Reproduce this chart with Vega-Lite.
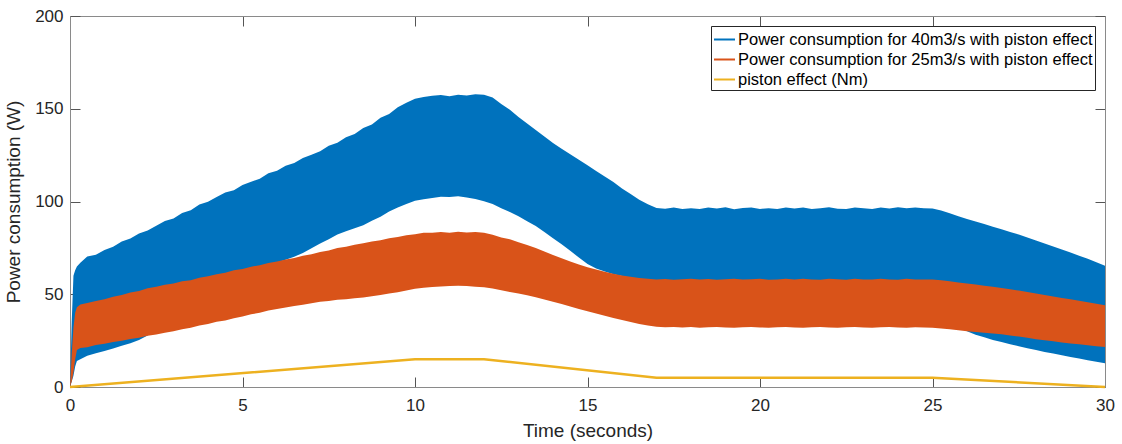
{
  "$schema": "https://vega.github.io/schema/vega-lite/v6.json",
  "width": 1035,
  "height": 371,
  "autosize": "none",
  "padding": {"left": 70, "top": 16, "right": 17, "bottom": 57},
  "background": "white",
  "config": {
    "view": {"stroke": null},
    "font": "Liberation Sans",
    "axis": {
      "labelFont": "Liberation Sans",
      "titleFont": "Liberation Sans",
      "labelFontSize": 17,
      "titleFontSize": 19,
      "titleFontWeight": "normal",
      "labelColor": "#262626",
      "titleColor": "#262626",
      "domainColor": "#8a8a8a",
      "tickColor": "#555555",
      "tickSize": -10,
      "labelFlush": false,
      "grid": false
    }
  },
  "datasets": {
    "bands": [
      {"t": 0, "bt": 0, "bb": 0, "ot": 0, "ob": 0},
      {"t": 0.05, "bt": 35, "bb": 3, "ot": 18, "ob": 3},
      {"t": 0.1, "bt": 60, "bb": 6, "ot": 32, "ob": 8},
      {"t": 0.15, "bt": 63, "bb": 11, "ot": 40, "ob": 15},
      {"t": 0.2, "bt": 65, "bb": 14, "ot": 43, "ob": 20},
      {"t": 0.3, "bt": 67, "bb": 15, "ot": 44.5, "ob": 21},
      {"t": 0.5, "bt": 70.4, "bb": 16.8, "ot": 45.3, "ob": 21.4},
      {"t": 0.75, "bt": 71.3, "bb": 18.2, "ot": 46.4, "ob": 22.6},
      {"t": 1, "bt": 73.8, "bb": 19.4, "ot": 47.3, "ob": 23.3},
      {"t": 1.25, "bt": 75.6, "bb": 20.8, "ot": 48.6, "ob": 24.2},
      {"t": 1.5, "bt": 78.5, "bb": 22.3, "ot": 49.6, "ob": 24.9},
      {"t": 1.75, "bt": 80.0, "bb": 23.6, "ot": 50.9, "ob": 25.9},
      {"t": 2, "bt": 82.7, "bb": 25.4, "ot": 51.8, "ob": 26.6},
      {"t": 2.25, "bt": 84.3, "bb": 27.8, "ot": 53.2, "ob": 27.6},
      {"t": 2.5, "bt": 86.9, "bb": 31, "ot": 54, "ob": 28.3},
      {"t": 2.75, "bt": 89.5, "bb": 33, "ot": 55.1, "ob": 29.3},
      {"t": 3, "bt": 90.9, "bb": 36, "ot": 55.8, "ob": 30.1},
      {"t": 3.25, "bt": 93.8, "bb": 39, "ot": 57, "ob": 31.1},
      {"t": 3.5, "bt": 95.3, "bb": 42, "ot": 57.6, "ob": 31.9},
      {"t": 3.75, "bt": 98.4, "bb": 45, "ot": 58.9, "ob": 33.2},
      {"t": 4, "bt": 99.8, "bb": 48, "ot": 59.7, "ob": 34},
      {"t": 4.25, "bt": 102.4, "bb": 51, "ot": 60.8, "ob": 35.2},
      {"t": 4.5, "bt": 104.8, "bb": 54, "ot": 61.6, "ob": 35.9},
      {"t": 4.75, "bt": 106.1, "bb": 57, "ot": 62.9, "ob": 37.1},
      {"t": 5, "bt": 108.9, "bb": 60, "ot": 63.6, "ob": 38},
      {"t": 5.25, "bt": 110.7, "bb": 62, "ot": 64.8, "ob": 39.2},
      {"t": 5.5, "bt": 112.3, "bb": 64, "ot": 65.7, "ob": 40},
      {"t": 5.75, "bt": 115.2, "bb": 65.5, "ot": 66.9, "ob": 41.2},
      {"t": 6, "bt": 116.6, "bb": 67, "ot": 67.6, "ob": 42},
      {"t": 6.25, "bt": 119.3, "bb": 68.6, "ot": 68.8, "ob": 42.9},
      {"t": 6.5, "bt": 120.8, "bb": 70.2, "ot": 69.6, "ob": 43.6},
      {"t": 6.75, "bt": 123.5, "bb": 72.3, "ot": 70.8, "ob": 44.4},
      {"t": 7, "bt": 125.2, "bb": 74.8, "ot": 71.6, "ob": 45.1},
      {"t": 7.25, "bt": 127.1, "bb": 77.4, "ot": 72.8, "ob": 45.9},
      {"t": 7.5, "bt": 130.1, "bb": 79.7, "ot": 73.6, "ob": 46.4},
      {"t": 7.75, "bt": 131.7, "bb": 82.2, "ot": 74.9, "ob": 47},
      {"t": 8, "bt": 134.6, "bb": 83.9, "ot": 75.6, "ob": 47.3},
      {"t": 8.25, "bt": 136.4, "bb": 85.6, "ot": 76.7, "ob": 47.9},
      {"t": 8.5, "bt": 139.6, "bb": 87.2, "ot": 77.5, "ob": 48.3},
      {"t": 8.75, "bt": 141.5, "bb": 89.6, "ot": 78.4, "ob": 48.9},
      {"t": 9, "bt": 145.1, "bb": 91.8, "ot": 79.1, "ob": 49.6},
      {"t": 9.25, "bt": 147.2, "bb": 94.6, "ot": 80.2, "ob": 50.4},
      {"t": 9.5, "bt": 150.8, "bb": 96.8, "ot": 80.8, "ob": 51.1},
      {"t": 9.75, "bt": 153.2, "bb": 98.7, "ot": 81.8, "ob": 52},
      {"t": 10, "bt": 155.4, "bb": 100.4, "ot": 82.3, "ob": 52.9},
      {"t": 10.25, "bt": 156.3, "bb": 101.2, "ot": 83.2, "ob": 53.5},
      {"t": 10.5, "bt": 157, "bb": 101.9, "ot": 83.1, "ob": 53.9},
      {"t": 10.75, "bt": 157.4, "bb": 102.6, "ot": 83.6, "ob": 54.2},
      {"t": 11, "bt": 156.8, "bb": 102.4, "ot": 83.2, "ob": 54.4},
      {"t": 11.25, "bt": 157.6, "bb": 102.8, "ot": 83.7, "ob": 54.6},
      {"t": 11.5, "bt": 157.1, "bb": 102.1, "ot": 83.3, "ob": 54.4},
      {"t": 11.75, "bt": 157.8, "bb": 101.4, "ot": 83.6, "ob": 54.1},
      {"t": 12, "bt": 157.5, "bb": 100.1, "ot": 83.1, "ob": 53.8},
      {"t": 12.25, "bt": 156, "bb": 98.6, "ot": 82.1, "ob": 53.1},
      {"t": 12.5, "bt": 152.5, "bb": 96.4, "ot": 80.6, "ob": 52.1},
      {"t": 12.75, "bt": 149.5, "bb": 94.3, "ot": 79.6, "ob": 51.2},
      {"t": 13, "bt": 145.5, "bb": 92.1, "ot": 78.1, "ob": 50.4},
      {"t": 13.25, "bt": 142, "bb": 89.4, "ot": 76.6, "ob": 49.4},
      {"t": 13.5, "bt": 138.5, "bb": 86.8, "ot": 75, "ob": 48.4},
      {"t": 13.75, "bt": 135, "bb": 83.6, "ot": 73.1, "ob": 47.2},
      {"t": 14, "bt": 131.5, "bb": 80.2, "ot": 71.1, "ob": 46},
      {"t": 14.25, "bt": 128.5, "bb": 76.9, "ot": 69.4, "ob": 44.7},
      {"t": 14.5, "bt": 125.5, "bb": 73.4, "ot": 67.6, "ob": 43.4},
      {"t": 14.75, "bt": 122.5, "bb": 69.8, "ot": 66.1, "ob": 42.1},
      {"t": 15, "bt": 119.5, "bb": 66.3, "ot": 64.6, "ob": 40.9},
      {"t": 15.25, "bt": 116.5, "bb": 63.9, "ot": 63.4, "ob": 39.6},
      {"t": 15.5, "bt": 113.5, "bb": 62.2, "ot": 62.1, "ob": 38.4},
      {"t": 15.75, "bt": 110.5, "bb": 60.8, "ot": 61, "ob": 37.2},
      {"t": 16, "bt": 107, "bb": 59.8, "ot": 60.1, "ob": 36.1},
      {"t": 16.25, "bt": 104, "bb": 58.8, "ot": 59.4, "ob": 35},
      {"t": 16.5, "bt": 101, "bb": 56, "ot": 58.8, "ob": 34},
      {"t": 16.75, "bt": 98.5, "bb": 50, "ot": 58.3, "ob": 33.1},
      {"t": 17, "bt": 96.5, "bb": 45, "ot": 58, "ob": 32.5},
      {"t": 17.25, "bt": 96.1, "bb": 45, "ot": 58.2, "ob": 32.2},
      {"t": 17.5, "bt": 96.7, "bb": 45, "ot": 57.8, "ob": 32.4},
      {"t": 17.75, "bt": 95.9, "bb": 45, "ot": 58.1, "ob": 32.1},
      {"t": 18, "bt": 96.4, "bb": 45, "ot": 58.4, "ob": 32.3},
      {"t": 18.25, "bt": 96.0, "bb": 45, "ot": 57.9, "ob": 32},
      {"t": 18.5, "bt": 96.8, "bb": 45, "ot": 58.2, "ob": 32.2},
      {"t": 18.75, "bt": 96.2, "bb": 45, "ot": 57.8, "ob": 32.4},
      {"t": 19, "bt": 96.9, "bb": 45, "ot": 58.1, "ob": 32.1},
      {"t": 19.25, "bt": 95.8, "bb": 45, "ot": 58.3, "ob": 32},
      {"t": 19.5, "bt": 96.5, "bb": 45, "ot": 57.9, "ob": 32.2},
      {"t": 19.75, "bt": 96.7, "bb": 45, "ot": 58.1, "ob": 32.4},
      {"t": 20, "bt": 96.0, "bb": 45, "ot": 58.4, "ob": 32.1},
      {"t": 20.25, "bt": 96.4, "bb": 45, "ot": 57.8, "ob": 32},
      {"t": 20.5, "bt": 95.9, "bb": 45, "ot": 58, "ob": 32.2},
      {"t": 20.75, "bt": 96.8, "bb": 45, "ot": 58.3, "ob": 32.3},
      {"t": 21, "bt": 96.2, "bb": 45, "ot": 57.9, "ob": 32.1},
      {"t": 21.25, "bt": 96.7, "bb": 45, "ot": 58.3, "ob": 32},
      {"t": 21.5, "bt": 95.9, "bb": 45, "ot": 58, "ob": 32.2},
      {"t": 21.75, "bt": 96.4, "bb": 45, "ot": 57.8, "ob": 32.4},
      {"t": 22, "bt": 96.9, "bb": 45, "ot": 58.3, "ob": 32.1},
      {"t": 22.25, "bt": 96.1, "bb": 45, "ot": 58.1, "ob": 32},
      {"t": 22.5, "bt": 96.0, "bb": 45, "ot": 57.8, "ob": 32.2},
      {"t": 22.75, "bt": 96.7, "bb": 45, "ot": 58.3, "ob": 32.3},
      {"t": 23, "bt": 96.4, "bb": 45, "ot": 58, "ob": 32.1},
      {"t": 23.25, "bt": 95.9, "bb": 45, "ot": 57.9, "ob": 32},
      {"t": 23.5, "bt": 96.8, "bb": 45, "ot": 58.3, "ob": 32.2},
      {"t": 23.75, "bt": 96.2, "bb": 45, "ot": 58, "ob": 32.3},
      {"t": 24, "bt": 96.9, "bb": 45, "ot": 57.8, "ob": 32.1},
      {"t": 24.25, "bt": 96.3, "bb": 45, "ot": 58.3, "ob": 32},
      {"t": 24.5, "bt": 96.7, "bb": 45, "ot": 58, "ob": 32.2},
      {"t": 24.75, "bt": 96.4, "bb": 45, "ot": 57.9, "ob": 32.1},
      {"t": 25, "bt": 96.2, "bb": 45, "ot": 58, "ob": 32},
      {"t": 25.25, "bt": 95.2, "bb": 40, "ot": 57.6, "ob": 31.6},
      {"t": 25.5, "bt": 93.6, "bb": 35, "ot": 57, "ob": 31.1},
      {"t": 25.75, "bt": 92, "bb": 32, "ot": 56.4, "ob": 30.6},
      {"t": 26, "bt": 90.5, "bb": 30, "ot": 55.8, "ob": 30.1},
      {"t": 26.25, "bt": 89.2, "bb": 28.1, "ot": 55.2, "ob": 29.7},
      {"t": 26.5, "bt": 87.9, "bb": 26.8, "ot": 54.6, "ob": 29.3},
      {"t": 26.75, "bt": 86.4, "bb": 25.4, "ot": 54.1, "ob": 28.9},
      {"t": 27, "bt": 85.1, "bb": 24.2, "ot": 53.4, "ob": 28.4},
      {"t": 27.25, "bt": 83.6, "bb": 23.1, "ot": 52.7, "ob": 27.8},
      {"t": 27.5, "bt": 82.2, "bb": 22, "ot": 52, "ob": 27.2},
      {"t": 27.75, "bt": 80.6, "bb": 20.9, "ot": 51.2, "ob": 26.5},
      {"t": 28, "bt": 79, "bb": 20, "ot": 50.4, "ob": 25.8},
      {"t": 28.25, "bt": 77.4, "bb": 18.9, "ot": 49.6, "ob": 25.2},
      {"t": 28.5, "bt": 75.8, "bb": 18.1, "ot": 48.8, "ob": 24.6},
      {"t": 28.75, "bt": 74.1, "bb": 17.1, "ot": 48, "ob": 24},
      {"t": 29, "bt": 72.5, "bb": 16.2, "ot": 47.3, "ob": 23.5},
      {"t": 29.25, "bt": 70.8, "bb": 15.3, "ot": 46.5, "ob": 23},
      {"t": 29.5, "bt": 69.1, "bb": 14.4, "ot": 45.7, "ob": 22.5},
      {"t": 29.75, "bt": 67.2, "bb": 13.6, "ot": 44.9, "ob": 22},
      {"t": 30, "bt": 65.3, "bb": 12.8, "ot": 44.1, "ob": 21.5}
    ],
    "piston": [
      {"t": 0, "p": 0},
      {"t": 10, "p": 15},
      {"t": 12, "p": 15},
      {"t": 17, "p": 5},
      {"t": 25, "p": 5},
      {"t": 30, "p": 0}
    ]
  },
  "resolve": {"axis": {"x": "independent", "y": "independent"}},
  "layer": [
    {
      "data": {"name": "bands"},
      "mark": {"type": "area", "interpolate": "linear", "opacity": 1},
      "encoding": {
        "x": {
          "field": "t", "type": "quantitative",
          "scale": {"domain": [0, 30], "nice": false},
          "axis": {"orient": "bottom", "values": [0, 5, 10, 15, 20, 25, 30], "title": "Time (seconds)", "labelPadding": 20, "titlePadding": 8, "labelFlush": false}
        },
        "y": {
          "field": "bt", "type": "quantitative",
          "scale": {"domain": [0, 200], "nice": false},
          "axis": {"orient": "left", "values": [0, 50, 100, 150, 200], "title": "Power consumption (W)", "labelPadding": 17, "titlePadding": 11, "labelFlush": false}
        },
        "y2": {"field": "bb"},
        "color": {
          "datum": "Power consumption for 40m3/s with piston effect",
          "scale": {
            "domain": ["Power consumption for 40m3/s with piston effect", "Power consumption for 25m3/s with piston effect", "piston effect (Nm)"],
            "range": ["#0072BD", "#D95319", "#EDB120"]
          },
          "legend": {
            "title": null,
            "orient": "top-right",
            "offset": 10,
            "fillColor": "white",
            "strokeColor": "#262626",
            "padding": 2,
            "labelFont": "Liberation Sans",
            "labelFontSize": 16.5,
            "labelColor": "#000000",
            "labelLimit": 600,
            "labelOffset": 2,
            "symbolType": "stroke",
            "symbolSize": 441,
            "symbolStrokeWidth": 2,
            "rowPadding": 0,
            "encode": {
              "symbols": {
                "update": {
                  "stroke": {"scale": "color", "field": "value"},
                  "fill": {"value": "transparent"},
                  "strokeWidth": {"value": 2}
                }
              }
            }
          }
        }
      }
    },
    {
      "data": {"name": "bands"},
      "mark": {"type": "area", "interpolate": "linear", "opacity": 1},
      "encoding": {
        "x": {"field": "t", "type": "quantitative", "axis": null},
        "y": {"field": "ot", "type": "quantitative", "axis": null},
        "y2": {"field": "ob"},
        "color": {"datum": "Power consumption for 25m3/s with piston effect"}
      }
    },
    {
      "data": {"name": "piston"},
      "mark": {"type": "line", "strokeWidth": 2.5, "interpolate": "linear"},
      "encoding": {
        "x": {
          "field": "t", "type": "quantitative",
          "axis": {"orient": "top", "values": [0, 5, 10, 15, 20, 25, 30], "labels": false, "title": null}
        },
        "y": {
          "field": "p", "type": "quantitative",
          "axis": {"orient": "right", "values": [0, 50, 100, 150, 200], "labels": false, "title": null}
        },
        "color": {"datum": "piston effect (Nm)"}
      }
    }
  ]
}
